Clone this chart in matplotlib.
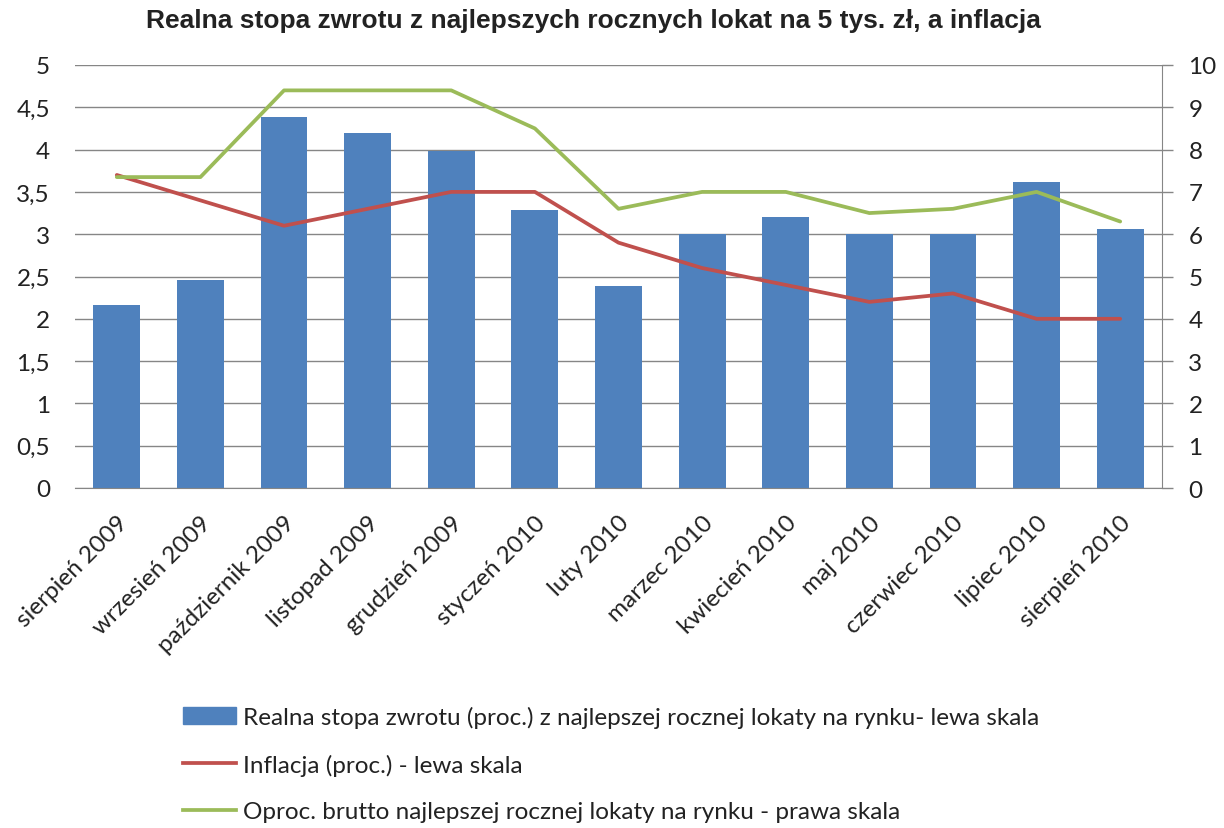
import matplotlib
matplotlib.use("Agg")
import matplotlib.pyplot as plt
import numpy as np
from matplotlib.patches import Patch
from matplotlib.lines import Line2D

categories = ["sierpień 2009", "wrzesień 2009", "październik 2009", "listopad 2009",
              "grudzień 2009", "styczeń 2010", "luty 2010", "marzec 2010",
              "kwiecień 2010", "maj 2010", "czerwiec 2010", "lipiec 2010", "sierpień 2010"]
real_rate = [2.16, 2.46, 4.39, 4.20, 3.98, 3.29, 2.39, 3.00, 3.20, 3.00, 3.00, 3.62, 3.06]
inflation = [3.7, 3.4, 3.1, 3.3, 3.5, 3.5, 2.9, 2.6, 2.4, 2.2, 2.3, 2.0, 2.0]
gross_rate = [7.35, 7.35, 9.4, 9.4, 9.4, 8.5, 6.6, 7.0, 7.0, 6.5, 6.6, 7.0, 6.3]
left_ticks = [0, 0.5, 1, 1.5, 2, 2.5, 3, 3.5, 4, 4.5, 5]
left_labels = ["0", "0,5", "1", "1,5", "2", "2,5", "3", "3,5", "4", "4,5", "5"]
right_ticks = [0, 1, 2, 3, 4, 5, 6, 7, 8, 9, 10]

labels_legend = ["Realna stopa zwrotu (proc.) z najlepszej rocznej lokaty na rynku- lewa skala",
                 "Inflacja (proc.) - lewa skala",
                 "Oproc. brutto najlepszej rocznej lokaty na rynku - prawa skala"]

BLUE = "#4F81BD"
RED = "#C0504D"
GREEN = "#9BBB59"
GRID = "#868686"
FONT = ["Lato", "DejaVu Sans"]
FS = 17.5

plt.rcParams["font.family"] = FONT

fig = plt.figure(figsize=(12.24, 8.29), dpi=100)
ax = fig.add_axes([75/1224, 1-489/829, (1162-75)/1224, (489-66)/829])
x = np.arange(len(categories))
ax.bar(x, real_rate, width=0.56, color=BLUE, zorder=2)
ax.plot(x, inflation, color=RED, lw=2.7, zorder=3, solid_capstyle="round")
ax.set_xlim(-0.5, len(categories) - 0.5)
ax.set_ylim(0, 5)
ax.set_yticks(left_ticks)
ax.set_yticklabels(left_labels)
ax.yaxis.grid(True, color=GRID, lw=1.0, zorder=0)
ax.set_axisbelow(True)
for s in ["top", "left", "right"]:
    ax.spines[s].set_visible(False)
ax.spines["bottom"].set_color(GRID)
ax.tick_params(axis="y", length=0, pad=18, labelsize=FS, labelcolor="#222222")
ax.tick_params(axis="x", length=0, pad=17, labelsize=FS, labelcolor="#222222")
ax.set_xticks(x)
ax.set_xticklabels(categories, rotation=45, ha="right", va="top", rotation_mode="anchor")

ax2 = ax.twinx()
ax2.plot(x, gross_rate, color=GREEN, lw=2.7, zorder=4, solid_capstyle="round")
ax2.set_ylim(0, 10)
ax2.set_yticks(right_ticks)
ax2.set_yticklabels([str(t) for t in right_ticks])
for s in ["top", "left", "bottom"]:
    ax2.spines[s].set_visible(False)
ax2.spines["right"].set_color(GRID)
ax2.tick_params(axis="y", length=8, width=1, color=GRID, direction="out", pad=11,
                labelsize=FS, labelcolor="#222222")

fig.text(593/1224, 1-21/829, "Realna stopa zwrotu z najlepszych rocznych lokat na 5 tys. zł, a inflacja",
         ha="center", va="center", fontsize=19, fontweight="bold",
         family=["Liberation Sans", "DejaVu Sans"], color="#222222")

handles = [Patch(facecolor=BLUE, edgecolor=BLUE),
           Line2D([0], [0], color=RED, lw=2.7),
           Line2D([0], [0], color=GREEN, lw=2.7)]
leg = fig.legend(handles, labels_legend, loc="upper left",
                 bbox_to_anchor=(183/1224, 1-707/829), frameon=False,
                 fontsize=FS, handlelength=2.2, handletextpad=0.25,
                 labelspacing=1.05, borderaxespad=0, borderpad=0)
for t in leg.get_texts():
    t.set_color("#222222")

fig.savefig("out.png", dpi=100)
